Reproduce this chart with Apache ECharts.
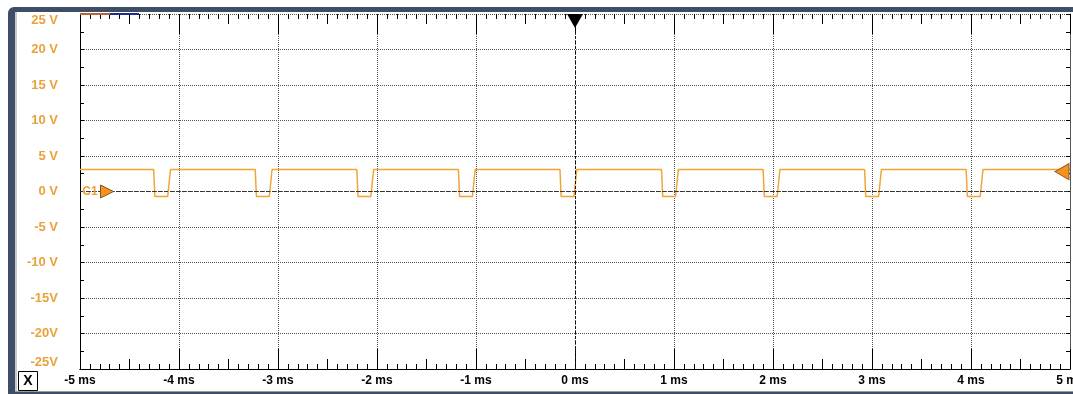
<!DOCTYPE html>
<html>
<head>
<meta charset="utf-8">
<script src="https://cdn.jsdelivr.net/npm/echarts@6/dist/echarts.min.js"></script>
<style>
html,body{margin:0;padding:0;background:#fff;}
#c{width:1073px;height:394px;}
</style>
</head>
<body>
<div id="c"></div>
<script>
// ---- data ----
const xTickLabels = ['-5 ms','-4 ms','-3 ms','-2 ms','-1 ms','0 ms','1 ms','2 ms','3 ms','4 ms','5 ms'];
const yTickLabels = ['-25V','-20V','-15V','-10 V','-5 V','0 V','5 V','10 V','15 V','20 V','25 V'];
const highLevel = 3.1;   // V
const lowLevel = -0.7;   // V
const fallStart = [-4.256, -3.230, -2.204, -1.178, -0.152, 0.874, 1.900, 2.925, 3.951];
const fallEnd   = [-4.244, -3.218, -2.192, -1.166, -0.140, 0.886, 1.912, 2.937, 3.963];
const riseStart = [-4.114, -3.088, -2.062, -1.036, -0.010, 1.016, 2.042, 3.067, 4.093];
const riseEnd   = [-4.086, -3.060, -2.034, -1.008, 0.018, 1.044, 2.070, 3.095, 4.121];
const triggerLevel = 2.8; // V (right marker)
const channelName = 'C1';

const wave = [[-5, highLevel]];
for (let i = 0; i < fallStart.length; i++) {
  wave.push([fallStart[i], highLevel]);
  wave.push([fallEnd[i], lowLevel]);
  wave.push([riseStart[i], lowLevel]);
  wave.push([riseEnd[i], highLevel]);
}
wave.push([5, highLevel]);

const ORANGE = '#F0A535';
const LABEL_ORANGE = '#E9A23B';
const MARK_ORANGE = '#F7921E';
const GRID = '#555555';

const chart = echarts.init(document.getElementById('c'), null, {renderer: 'canvas'});

function xAxisDef(pos, interval, tickLen, withLabels, withMinor, withSplit) {
  return {
    type: 'value', position: pos, min: -5, max: 5, interval: interval,
    axisLine: {show: pos === 'bottom', onZero: false, lineStyle: {color: '#000', width: 1}},
    axisTick: {show: true, inside: true, length: tickLen, lineStyle: {color: '#000', width: 1}},
    minorTick: {show: withMinor, splitNumber: 10, length: 5, lineStyle: {color: '#000', width: 1}},
    axisLabel: {
      show: withLabels, margin: 6, color: '#000', fontWeight: 'bold', fontSize: 12,
      fontFamily: 'Liberation Sans, Arial, sans-serif',
      hideOverlap: false,
      formatter: function (v) { return xTickLabels[Math.round(v + 5)]; }
    },
    splitLine: {show: withSplit, lineStyle: {color: GRID, type: 'dotted', width: 1}},
    minorSplitLine: {show: false}
  };
}

function yAxisDef(pos, withLabels, withSplit) {
  return {
    type: 'value', position: pos, min: -25, max: 25, interval: 5,
    axisLine: {show: true, onZero: false, lineStyle: {color: pos === 'left' ? '#000' : '#555', width: 1}},
    axisTick: {show: true, inside: true, length: 4, lineStyle: {color: '#000'}},
    minorTick: {show: true, splitNumber: 2, length: 4, lineStyle: {color: '#000'}},
    axisLabel: {
      show: withLabels, margin: 22, color: LABEL_ORANGE, fontWeight: 'bold', fontSize: 13,
      fontFamily: 'Liberation Sans, Arial, sans-serif',
      verticalAlignMinLabel: 'bottom', verticalAlignMaxLabel: 'top',
      formatter: function (v) { return yTickLabels[Math.round((v + 25) / 5)]; }
    },
    splitLine: {show: withSplit, lineStyle: {color: GRID, type: 'dotted', width: 1}}
  };
}

const option = {
  animation: false,
  backgroundColor: '#ffffff',
  grid: {left: 80, right: 3, top: 14, bottom: 25, containLabel: false, outerBoundsMode: 'none'},
  xAxis: [
    xAxisDef('bottom', 1, 20, true, true, true),
    xAxisDef('bottom', 0.5, 10, false, false, false),
    xAxisDef('top', 1, 20, false, true, false),
    xAxisDef('top', 0.5, 10, false, false, false)
  ],
  yAxis: [
    yAxisDef('left', true, true),
    yAxisDef('right', false, false)
  ],
  graphic: [
    {type: 'rect', z: -100, silent: true, shape: {x: 8, y: 7, width: 1100, height: 400, r: 6}, style: {fill: '#3D4E66'}},
    {type: 'rect', z: -99, silent: true, shape: {x: 15, y: 12, width: 1100, height: 379}, style: {fill: '#c9c9c9'}},
    {type: 'rect', z: -98, silent: true, shape: {x: 17, y: 12, width: 1100, height: 379}, style: {fill: '#ffffff'}},
    {type: 'rect', z: -97, silent: true, shape: {x: 15, y: 391, width: 1100, height: 1}, style: {fill: '#9a9a9a'}},
    {type: 'rect', z: 50, silent: true, shape: {x: 80, y: 13, width: 30, height: 2}, style: {fill: '#B8643A'}},
    {type: 'rect', z: 50, silent: true, shape: {x: 110, y: 13, width: 29, height: 2}, style: {fill: '#1F2E8C'}},
    {type: 'rect', z: 50, silent: true, shape: {x: 18.5, y: 371.5, width: 19, height: 19}, style: {fill: '#fff', stroke: '#000', lineWidth: 1}},
    {type: 'text', z: 51, silent: true, x: 28, y: 381,
      style: {text: 'X', fill: '#000', font: 'bold 14px Liberation Sans, Arial, sans-serif', align: 'center', verticalAlign: 'middle'}}
  ],
  series: [{
    type: 'line',
    xAxisIndex: 0, yAxisIndex: 0,
    data: wave,
    symbol: 'none',
    clip: true,
    lineStyle: {color: ORANGE, width: 1.5},
    itemStyle: {color: ORANGE},
    markLine: {
      silent: true, symbol: ['none', 'none'], animation: false,
      label: {show: false},
      data: [
        {yAxis: 0, lineStyle: {color: '#333', type: [4, 2], width: 1}},
        {xAxis: 0, lineStyle: {color: '#111', type: [3, 2], width: 1}}
      ]
    },
    markPoint: {
      silent: true, animation: false,
      data: [
        {coord: [-5, 0], symbol: 'triangle', symbolSize: [13, 13], symbolRotate: -90, symbolOffset: [27, 0],
          itemStyle: {color: MARK_ORANGE, borderColor: '#8a5420', borderWidth: 1}, label: {show: false}},
        {coord: [-5, 0], symbol: 'circle', symbolSize: 1, itemStyle: {color: 'rgba(0,0,0,0)'},
          label: {show: true, position: 'inside', offset: [10, 0], formatter: channelName, color: LABEL_ORANGE,
            fontSize: 12, fontWeight: 'bold', fontFamily: 'Liberation Sans, Arial, sans-serif'}},
        {coord: [0, 25], symbol: 'triangle', symbolSize: [16, 14], symbolRotate: 180, symbolOffset: [0, 7],
          itemStyle: {color: '#000'}, label: {show: false}},
        {coord: [5, triggerLevel], symbol: 'triangle', symbolSize: [16, 14], symbolRotate: 90, symbolOffset: [-8, 0],
          itemStyle: {color: MARK_ORANGE, borderColor: '#8a5420', borderWidth: 1}, label: {show: false}}
      ]
    }
  }]
};
chart.setOption(option);
</script>
</body>
</html>
